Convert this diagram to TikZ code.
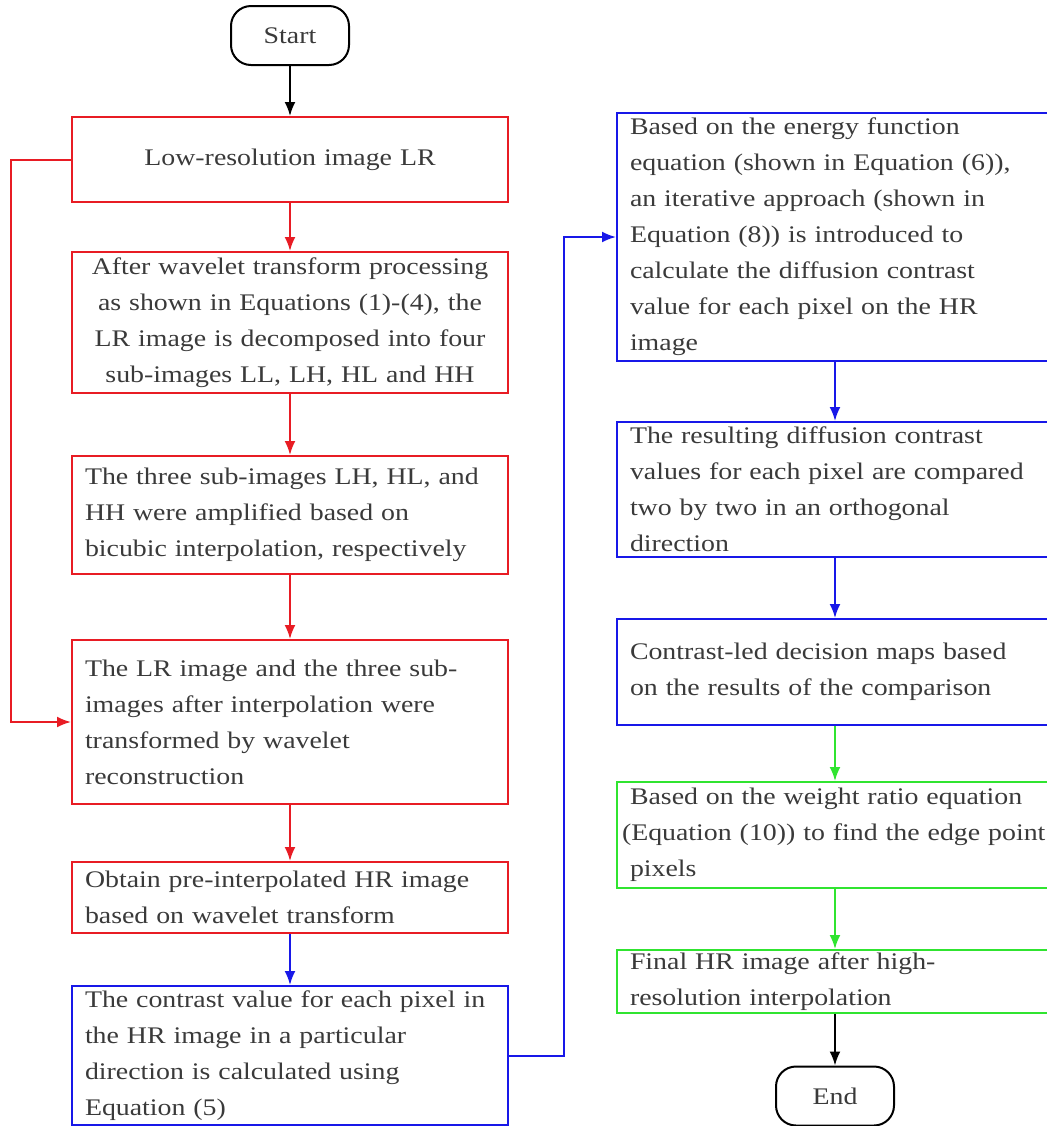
\documentclass[tikz,border=0pt]{standalone}
\usepackage{fontspec}
\setmainfont{Liberation Serif}[FakeStretch=1.17]
\usetikzlibrary{arrows.meta}

\definecolor{fcred}{RGB}{232,28,36}
\definecolor{fcblue}{RGB}{24,24,232}
\definecolor{fcgreen}{RGB}{48,228,48}
\definecolor{fctext}{RGB}{58,58,58}
\newcommand{\boxfont}{\fontsize{11.9}{18}\selectfont}

\tikzset{
  stepbox/.style={draw, line width=1pt, rectangle, minimum width=218pt,
    text width=205pt, inner xsep=6.5pt, inner ysep=0pt, align=left,
    font=\boxfont, text=fctext},
  redbox/.style={stepbox, draw=fcred},
  bluebox/.style={stepbox, draw=fcblue},
  greenbox/.style={stepbox, draw=fcgreen},
  term/.style={draw, line width=1pt, rounded corners=10pt, minimum width=59pt,
    minimum height=29.5pt, inner sep=0pt, font=\boxfont, text=fctext},
  flow/.style={-{Latex[length=7pt,width=5.5pt]}, line width=1pt}
}

\begin{document}
\begin{tikzpicture}[x=0.5pt, y=-0.5pt]
\useasboundingbox (0,0) rectangle (1047,1126);

% left column
\node[term] (start) at (290,35.5) {Start};
\node[redbox, minimum height=42.5pt, align=center] (lr) at (290,159.5) {Low-resolution image LR};
\node[redbox, minimum height=70.5pt, align=center] (decomp) at (290,322.5)
  {After wavelet transform processing\\ as shown in Equations (1)-(4), the\\ LR image is decomposed into four\\ sub-images LL, LH, HL and HH};
\node[redbox, minimum height=59pt] (bicubic) at (290,515)
  {The three sub-images LH, HL, and\\ HH were amplified based on\\ bicubic interpolation, respectively};
\node[redbox, minimum height=82pt] (recon) at (290,722)
  {The LR image and the three sub-\\ images after interpolation were\\ transformed by wavelet\\ reconstruction};
\node[redbox, minimum height=35.5pt] (prehr) at (290,897.5)
  {Obtain pre-interpolated HR image\\ based on wavelet transform};
\node[bluebox, minimum height=69.5pt] (contrast) at (290,1055.5)
  {The contrast value for each pixel in\\ the HR image in a particular\\ direction is calculated using\\ Equation (5)};

% right column
\node[bluebox, minimum height=124pt] (energy) at (835,237)
  {Based on the energy function\\ equation (shown in Equation (6)),\\ an iterative approach (shown in\\ Equation (8)) is introduced to\\ calculate the diffusion contrast\\ value for each pixel on the HR\\ image};
\node[bluebox, minimum height=67.5pt] (compare) at (835,489.5)
  {The resulting diffusion contrast\\ values for each pixel are compared\\ two by two in an orthogonal\\ direction};
\node[bluebox, minimum height=53pt] (decision) at (835,672)
  {Contrast-led decision maps based\\ on the results of the comparison};
\node[greenbox, minimum height=53pt] (weight) at (835,835)
  {Based on the weight ratio equation\\ \hspace*{-4pt}\mbox{(Equation (10)) to find the edge point}\\ pixels};
\node[greenbox, minimum height=31.5pt] (final) at (835,981.5)
  {Final HR image after high-\\ resolution interpolation};
\node[term] (end) at (835,1096) {End};

% connectors
\draw[flow] (start) -- (lr);
\draw[flow, fcred] (lr) -- (decomp);
\draw[flow, fcred] (decomp) -- (bicubic);
\draw[flow, fcred] (bicubic) -- (recon);
\draw[flow, fcred] (recon) -- (prehr);
\draw[flow, fcred] (lr.west) -- ++(-60,0) |- (recon.west);
\draw[flow, fcblue] (prehr) -- (contrast);
\draw[flow, fcblue] (contrast.east) -- ++(55,0) |- (energy.west);
\draw[flow, fcblue] (energy) -- (compare);
\draw[flow, fcblue] (compare) -- (decision);
\draw[flow, fcgreen] (decision) -- (weight);
\draw[flow, fcgreen] (weight) -- (final);
\draw[flow] (final) -- (end);
\end{tikzpicture}
\end{document}
